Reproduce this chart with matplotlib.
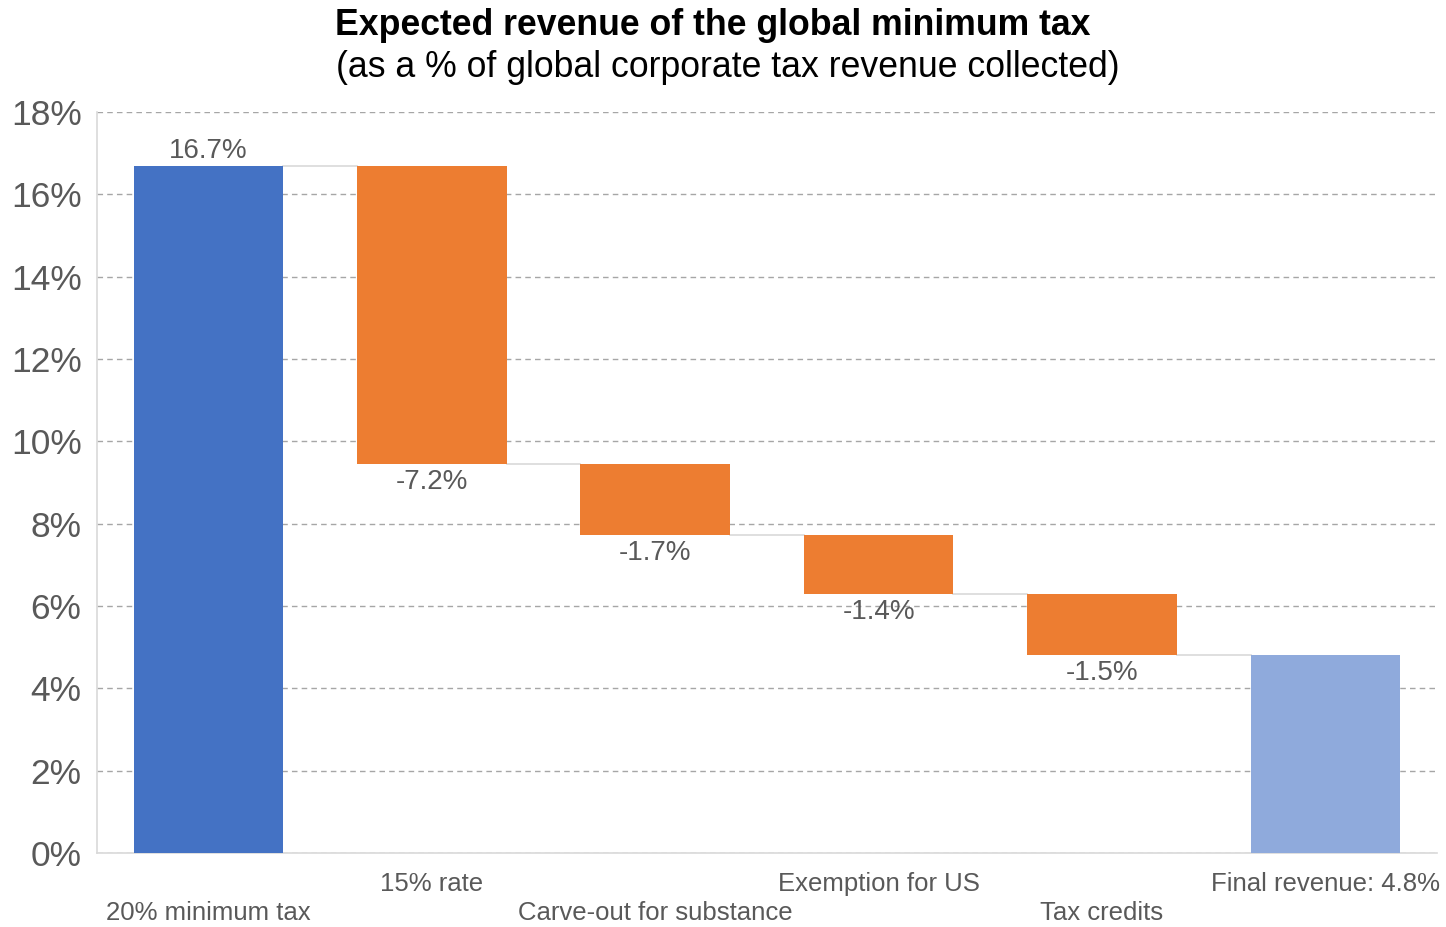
import matplotlib.pyplot as plt
from matplotlib.ticker import FuncFormatter

plt.rcParams['font.family'] = ['Liberation Sans', 'DejaVu Sans']

# data
categories = ['20% minimum tax', '15% rate', 'Carve-out for substance',
              'Exemption for US', 'Tax credits', 'Final revenue: 4.8%']
start_value = 16.7
changes = [-7.25, -1.73, -1.43, -1.48]
value_labels = ['16.7%', '-7.2%', '-1.7%', '-1.4%', '-1.5%']

BLUE = '#4472C4'
ORANGE = '#ED7D31'
LIGHT_BLUE = '#8FAADC'
GREY_TEXT = '#595959'

fig = plt.figure(figsize=(14.46, 9.27), dpi=100)
ax = fig.add_axes([0.067, 0.0798, 0.9268, 0.7994])

x = list(range(len(categories)))
width = 0.67

# running totals
levels = [start_value]
for c in changes:
    levels.append(levels[-1] + c)

# first bar
ax.bar(x[0], start_value, width=width, color=BLUE, zorder=3)
ax.text(x[0], start_value + 0.03, value_labels[0], ha='center', va='bottom',
        fontsize=20, color=GREY_TEXT)

# decrease bars
for i, c in enumerate(changes):
    top = levels[i]
    bottom = levels[i + 1]
    ax.bar(x[i + 1], top - bottom, bottom=bottom, width=width,
           color=ORANGE, zorder=3)
    ax.text(x[i + 1], bottom - 0.12, value_labels[i + 1], ha='center',
            va='top', fontsize=20, color=GREY_TEXT)

# final bar
ax.bar(x[-1], levels[-1], width=width, color=LIGHT_BLUE, zorder=3)

# connectors
for i in range(len(levels)):
    ax.plot([x[i] + width / 2, x[i + 1] - width / 2], [levels[i], levels[i]],
            color='#D9D9D9', lw=1.2, zorder=2)

ax.set_xlim(-0.5, len(categories) - 0.5)
ax.set_ylim(0, 18)
ax.set_yticks(range(0, 19, 2))
ax.yaxis.set_major_formatter(FuncFormatter(lambda v, p: '%d%%' % v))
ax.tick_params(axis='y', length=0, labelsize=25.5, labelcolor=GREY_TEXT, pad=11)
ax.grid(axis='y', color='#A6A6A6', linestyle=(0, (4, 3)), lw=1, zorder=0)

ax.set_xticks(x)
ax.set_xticklabels([])
ax.tick_params(axis='x', length=0)
# labels staggered on two rows
for i, name in enumerate(categories):
    offset = -0.042 if i % 2 == 1 else -0.081
    ax.text(x[i], offset, name, transform=ax.get_xaxis_transform(),
            ha='center', va='center', fontsize=18.5, color=GREY_TEXT)

for side in ['top', 'right']:
    ax.spines[side].set_visible(False)
for side in ['left', 'bottom']:
    ax.spines[side].set_color('#D9D9D9')
    ax.spines[side].set_linewidth(1.2)

fig.text(0.493, 0.973, 'Expected revenue of the global minimum tax',
         ha='center', va='center', fontsize=25.7, fontweight='bold')
fig.text(0.503, 0.927, '(as a % of global corporate tax revenue collected)',
         ha='center', va='center', fontsize=25.7)

fig.savefig('out.png', dpi=100)
